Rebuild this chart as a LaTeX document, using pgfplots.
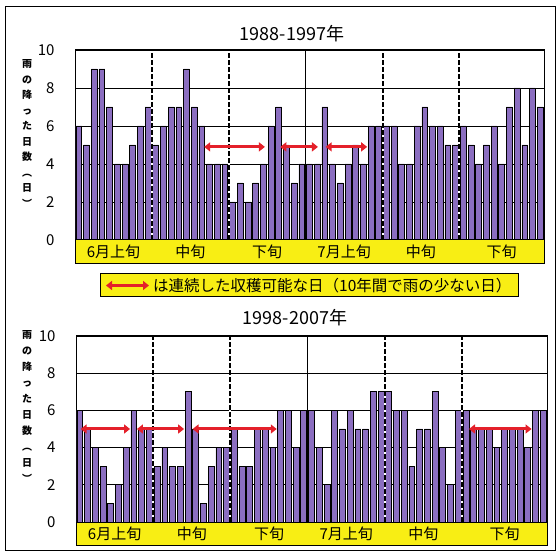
\documentclass[border=0pt]{standalone}
\usepackage{pgfplots}
\pgfplotsset{compat=1.18}
\usepackage{pgfplotstable}
\usepackage{fontspec}
\setmainfont{Noto Sans CJK JP}
\usetikzlibrary{arrows.meta}

\definecolor{barpurple}{RGB}{139,110,192}
\definecolor{bandyellow}{RGB}{248,238,20}
\definecolor{arrred}{RGB}{228,32,42}

\pgfplotstableread{
day rain
1 6
2 5
3 9
4 9
5 7
6 4
7 4
8 5
9 6
10 7
11 5
12 6
13 7
14 7
15 9
16 7
17 6
18 4
19 4
20 4
21 2
22 3
23 2
24 3
25 4
26 6
27 7
28 5
29 3
30 4
31 4
32 4
33 7
34 4
35 3
36 4
37 5
38 4
39 6
40 6
41 6
42 6
43 4
44 4
45 6
46 7
47 6
48 6
49 5
50 5
51 6
52 5
53 4
54 5
55 6
56 4
57 7
58 8
59 5
60 8
61 7
}\upperdata

\pgfplotstableread{
day rain
1 6
2 5
3 4
4 3
5 1
6 2
7 4
8 6
9 5
10 5
11 3
12 4
13 3
14 3
15 7
16 5
17 1
18 3
19 4
20 4
21 5
22 3
23 3
24 5
25 5
26 4
27 6
28 6
29 4
30 6
31 6
32 4
33 2
34 6
35 5
36 6
37 5
38 5
39 7
40 7
41 7
42 6
43 6
44 3
45 5
46 5
47 7
48 4
49 2
50 6
51 6
52 5
53 5
54 5
55 4
56 5
57 5
58 5
59 4
60 6
61 6
}\lowerdata

\tikzset{
  dekad/.style={black, line width=2pt, dash pattern=on 5pt off 2pt},
  dekadw/.style={white, line width=2pt},
  month/.style={black, line width=1.2pt},
  harvest/.style={arrred, line width=3pt, {Triangle[length=6pt,width=9pt]}-{Triangle[length=6pt,width=9pt]}},
}
\pgfplotsset{
  rainaxis/.style={
    anchor=south west, scale only axis,
    xmin=0.5, xmax=61.5, ymin=0, ymax=10,
    xtick=\empty, ytick={0,2,...,10},
    ymajorgrids, grid style={black, line width=0.6pt},
    major tick length=0pt,
    axis line style={black, line width=1pt},
    yticklabel style={font=\fontsize{15}{15}\selectfont, xshift=-17pt},
    /pgf/number format/assume math mode=true,
    clip=false,
  },
  bars/.style={ybar, bar width=0.76, fill=barpurple, draw=black, line width=0.7pt},
}

\begin{document}
\begin{tikzpicture}[x=1pt,y=1pt]
\path[use as bounding box] (0,0) rectangle (560,552);
\draw[black, line width=1pt] (5,2) rectangle (555,545);

% ---------- upper panel ----------
\node[font=\fontsize{18}{18}\selectfont] at (292,518) {1988-1997年};
\node[anchor=north, align=center, font=\fontsize{10}{15.5}\selectfont\bfseries] at (27,496)
  {雨\\の\\降\\っ\\た\\日\\数\\︵\\日\\︶};
\begin{axis}[rainaxis, at={(75pt,312pt)}, width=469pt, height=190pt]
\addplot[bars] table[x=day, y=rain] {\upperdata};
\addplot[dekadw] coordinates {(10.5,0) (10.5,10)};
\addplot[dekad] coordinates {(10.5,0) (10.5,10)};
\addplot[dekadw] coordinates {(20.5,0) (20.5,10)};
\addplot[dekad] coordinates {(20.5,0) (20.5,10)};
\addplot[month] coordinates {(30.5,0) (30.5,10)};
\addplot[dekadw] coordinates {(40.5,0) (40.5,10)};
\addplot[dekad] coordinates {(40.5,0) (40.5,10)};
\addplot[dekadw] coordinates {(50.5,0) (50.5,10)};
\addplot[dekad] coordinates {(50.5,0) (50.5,10)};
\addplot[harvest] coordinates {(17.3,4.9) (25.2,4.9)};
\addplot[harvest] coordinates {(27.2,4.9) (32.1,4.9)};
\addplot[harvest] coordinates {(33.1,4.9) (38.5,4.9)};
\fill[bandyellow] (axis cs:0.5,0) rectangle (axis cs:61.5,-1.22);
\draw[black, line width=1pt] (axis cs:0.5,0) rectangle (axis cs:61.5,-1.22);
\node[font=\fontsize{15}{15}\selectfont] at (axis cs:5.5,-0.6) {6月上旬};
\node[font=\fontsize{15}{15}\selectfont] at (axis cs:15.5,-0.6) {中旬};
\node[font=\fontsize{15}{15}\selectfont] at (axis cs:25.5,-0.6) {下旬};
\node[font=\fontsize{15}{15}\selectfont] at (axis cs:35.5,-0.6) {7月上旬};
\node[font=\fontsize{15}{15}\selectfont] at (axis cs:45.5,-0.6) {中旬};
\node[font=\fontsize{15}{15}\selectfont] at (axis cs:56,-0.6) {下旬};
\end{axis}

% ---------- legend ----------
\fill[bandyellow] (100,255) rectangle (518,278);
\draw[black, line width=1pt] (100,255) rectangle (518,278);
\draw[harvest] (106,266.5) -- (149,266.5);
\node[anchor=west, inner sep=0pt, font=\fontsize{15.5}{15.5}\selectfont] at (153,266.5)
  {は連続した収穫可能な日（10年間で雨の少ない日）};

% ---------- lower panel ----------
\node[font=\fontsize{18}{18}\selectfont] at (295,234) {1998-2007年};
\node[anchor=north, align=center, font=\fontsize{10}{16}\selectfont\bfseries] at (27,225)
  {雨\\の\\降\\っ\\た\\日\\数\\︵\\日\\︶};
\begin{axis}[rainaxis, at={(76pt,30pt)}, width=471pt, height=186pt]
\addplot[bars] table[x=day, y=rain] {\lowerdata};
\addplot[dekadw] coordinates {(10.5,0) (10.5,10)};
\addplot[dekad] coordinates {(10.5,0) (10.5,10)};
\addplot[dekadw] coordinates {(20.5,0) (20.5,10)};
\addplot[dekad] coordinates {(20.5,0) (20.5,10)};
\addplot[month] coordinates {(30.5,0) (30.5,10)};
\addplot[dekadw] coordinates {(40.5,0) (40.5,10)};
\addplot[dekad] coordinates {(40.5,0) (40.5,10)};
\addplot[dekadw] coordinates {(50.5,0) (50.5,10)};
\addplot[dekad] coordinates {(50.5,0) (50.5,10)};
\addplot[harvest] coordinates {(1.1,5) (7.5,5)};
\addplot[harvest] coordinates {(8.4,5) (14.5,5)};
\addplot[harvest] coordinates {(15.6,5) (26.5,5)};
\addplot[harvest] coordinates {(51.4,5) (59.5,5)};
\fill[bandyellow] (axis cs:0.5,0) rectangle (axis cs:61.5,-1.24);
\draw[black, line width=1pt] (axis cs:0.5,0) rectangle (axis cs:61.5,-1.24);
\node[font=\fontsize{15}{15}\selectfont] at (axis cs:5.5,-0.62) {6月上旬};
\node[font=\fontsize{15}{15}\selectfont] at (axis cs:15.5,-0.62) {中旬};
\node[font=\fontsize{15}{15}\selectfont] at (axis cs:25.5,-0.62) {下旬};
\node[font=\fontsize{15}{15}\selectfont] at (axis cs:35.5,-0.62) {7月上旬};
\node[font=\fontsize{15}{15}\selectfont] at (axis cs:45.5,-0.62) {中旬};
\node[font=\fontsize{15}{15}\selectfont] at (axis cs:56,-0.62) {下旬};
\end{axis}
\end{tikzpicture}
\end{document}
